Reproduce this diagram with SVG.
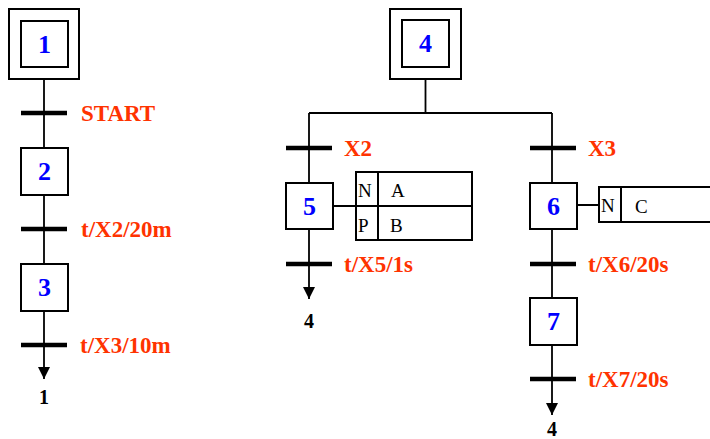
<svg xmlns="http://www.w3.org/2000/svg" width="710" height="439" viewBox="0 0 710 439">
<defs>
<style>
.box{fill:#fff;stroke:#000;stroke-width:2}
.ln{fill:none;stroke:#000;stroke-width:1.8}
.bar{stroke:#000;stroke-width:4.5}
.num{font-family:"Liberation Serif",serif;font-weight:bold;font-size:26px;fill:#0000ff;text-anchor:middle}
.lab{font-family:"Liberation Serif",serif;font-weight:bold;font-size:23px;fill:#ff3300}
.ref{font-family:"Liberation Serif",serif;font-weight:bold;font-size:20px;fill:#000;text-anchor:middle}
.act{font-family:"Liberation Serif",serif;font-size:19px;fill:#000}
</style>
<marker id="arr" markerUnits="userSpaceOnUse" markerWidth="14" markerHeight="14" viewBox="0 0 14 14" refX="12" refY="7" orient="auto">
<path d="M0,1 L12,7 L0,13 Z" fill="#000"/>
</marker>
</defs>
<rect width="710" height="439" fill="#fff"/>

<g id="connectors">
<path class="ln" d="M44,79 V148 M44,195 V264"/>
<path class="ln" d="M44,311 V379" marker-end="url(#arr)"/>
<path class="ln" d="M425.5,79 V113 M309,113 H552 M309,113 V183 M552,113 V183 M552,229 V298"/>
<path class="ln" d="M309,229 V299" marker-end="url(#arr)"/>
<path class="ln" d="M552,345 V415" marker-end="url(#arr)"/>
<path class="ln" d="M333,206 H356 M577,205 H599"/>
</g>

<g id="transitions">
<line class="bar" x1="21" y1="113" x2="67" y2="113"/>
<line class="bar" x1="21" y1="229" x2="67" y2="229"/>
<line class="bar" x1="21" y1="345" x2="67" y2="345"/>
<line class="bar" x1="286" y1="148" x2="332" y2="148"/>
<line class="bar" x1="286" y1="264" x2="332" y2="264"/>
<line class="bar" x1="530" y1="148" x2="576" y2="148"/>
<line class="bar" x1="530" y1="264" x2="576" y2="264"/>
<line class="bar" x1="530" y1="379" x2="576" y2="379"/>
<text class="lab" x="81" y="121">START</text>
<text class="lab" x="81" y="237">t/X2/20m</text>
<text class="lab" x="80" y="353">t/X3/10m</text>
<text class="lab" x="344" y="156">X2</text>
<text class="lab" x="344" y="272">t/X5/1s</text>
<text class="lab" x="588" y="156">X3</text>
<text class="lab" x="588" y="272">t/X6/20s</text>
<text class="lab" x="588" y="387">t/X7/20s</text>
<text class="ref" x="44" y="404">1</text>
<text class="ref" x="309" y="328">4</text>
<text class="ref" x="552" y="436">4</text>
</g>

<g id="step1">
<rect class="box" x="9" y="9" width="70" height="70"/>
<rect class="box" x="21" y="21" width="47" height="46"/>
<text class="num" x="44.5" y="53">1</text>
</g>
<g id="step2">
<rect class="box" x="21" y="148" width="47" height="47"/>
<text class="num" x="44.5" y="180">2</text>
</g>
<g id="step3">
<rect class="box" x="21" y="264" width="47" height="47"/>
<text class="num" x="44.5" y="296">3</text>
</g>
<g id="step4">
<rect class="box" x="390" y="9" width="71" height="70"/>
<rect class="box" x="402" y="20" width="47" height="47"/>
<text class="num" x="425.5" y="52">4</text>
</g>
<g id="step5">
<rect class="box" x="286" y="183" width="47" height="46"/>
<text class="num" x="309.5" y="215">5</text>
</g>
<g id="action5">
<rect class="box" x="356" y="172" width="116" height="68"/>
<path class="ln" d="M356,206 H472 M378,172 V240" style="stroke-width:2"/>
<text class="act" x="358" y="197">N</text>
<text class="act" x="391" y="197">A</text>
<text class="act" x="358" y="232">P</text>
<text class="act" x="390" y="232">B</text>
</g>
<g id="step6">
<rect class="box" x="530" y="183" width="47" height="46"/>
<text class="num" x="553.5" y="215">6</text>
</g>
<g id="action6">
<rect class="box" x="599" y="187" width="120" height="35"/>
<line class="ln" x1="621" y1="187" x2="621" y2="222" style="stroke-width:2"/>
<text class="act" x="601" y="212">N</text>
<text class="act" x="635" y="213">C</text>
</g>
<g id="step7">
<rect class="box" x="530" y="298" width="47" height="47"/>
<text class="num" x="553.5" y="330">7</text>
</g>
</svg>
